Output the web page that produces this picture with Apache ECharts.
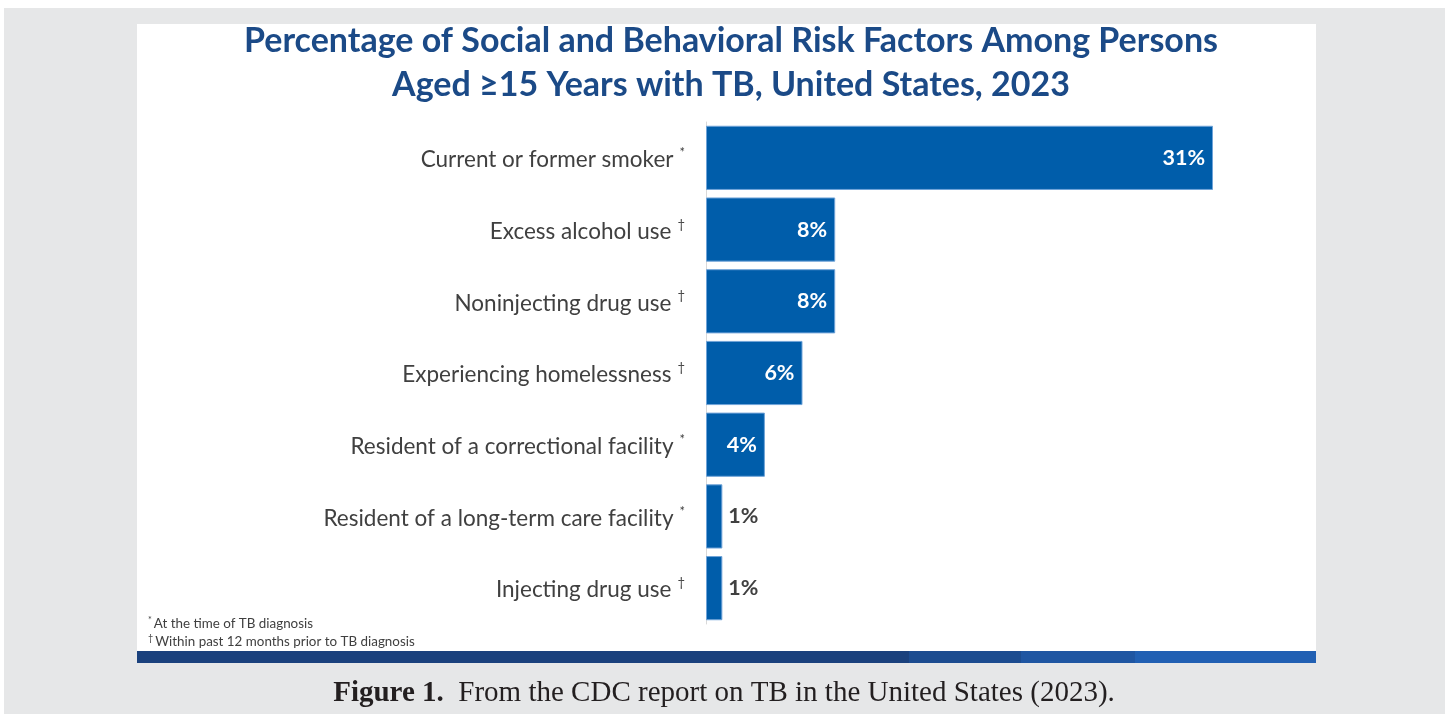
<!DOCTYPE html>
<html><head><meta charset="utf-8">
<script src="https://cdn.jsdelivr.net/npm/echarts@6/dist/echarts.min.js"></script>
<style>html,body{margin:0;padding:0;background:#fff}#c{width:1448px;height:714px}</style>
</head><body><div id="c"></div>
<script>
const categories = ["Current or former smoker","Excess alcohol use","Noninjecting drug use","Experiencing homelessness","Resident of a correctional facility","Resident of a long-term care facility","Injecting drug use"];
const marks = ["*","†","†","†","*","*","†"];
const values = [31, 7.9, 7.9, 5.9, 3.6, 1.0, 1.0];
const titleLines = ["Percentage of Social and Behavioral Risk Factors Among Persons","Aged ≥15 Years with TB, United States, 2023"];
const footnotes = [["*","At the time of TB diagnosis"],["†","Within past 12 months prior to TB diagnosis"]];
const captionBold = "Figure 1.";
const captionText = "From the CDC report on TB in the United States (2023).";

const chart = echarts.init(document.getElementById('c'), null, {renderer:'canvas'});
const labelFont = 'Lato, "Open Sans", sans-serif';
const data = values.map((v,i)=>{
  const inside = v >= 3;
  return {value:v, label:{
    position: inside ? 'insideRight' : 'right',
    distance: inside ? 8 : 6,
    color: inside ? '#ffffff' : '#404040'
  }};
});
chart.setOption({
  backgroundColor:'#ffffff',
  animation:false,
  title:{
    text: titleLines.join('\n'),
    left: 726, top: 14, textAlign:'center',
    textStyle:{color:'#1b4a87', fontFamily:labelFont, fontWeight:'bold', fontSize:34, lineHeight:44}
  },
  graphic:[
    {type:'rect', z:-10, shape:{x:4,y:8,width:1441,height:706}, style:{fill:'#e6e7e8'}},
    {type:'rect', z:-9, shape:{x:137,y:24,width:1179,height:628}, style:{fill:'#ffffff'}},
    {type:'rect', z:-8, shape:{x:137,y:651,width:772,height:12}, style:{fill:'#1a417d'}},
    {type:'rect', z:-8, shape:{x:909,y:651,width:112,height:12}, style:{fill:'#1c4c90'}},
    {type:'rect', z:-8, shape:{x:1021,y:651,width:114,height:12}, style:{fill:'#1f56a2'}},
    {type:'rect', z:-8, shape:{x:1135,y:651,width:181,height:12}, style:{fill:'#2160b3'}},
    {type:'text', left:148, top:616, style:{text:'{s|'+footnotes[0][0]+'}{t|'+footnotes[0][1]+'}', rich:{s:{fontSize:9,fill:'#404040',fontFamily:labelFont,padding:[0,2,6,0]},t:{fontSize:13.4,fill:'#404040',fontFamily:labelFont}}}},
    {type:'text', left:148, top:634, style:{text:'{s|'+footnotes[1][0]+'}{t|'+footnotes[1][1]+'}', rich:{s:{fontSize:9,fill:'#404040',fontFamily:labelFont,padding:[0,2,6,0]},t:{fontSize:13.4,fill:'#404040',fontFamily:labelFont}}}},
    {type:'text', left:'center', top:679, style:{text:'{b|'+captionBold+'}{n|  '+captionText+'}', rich:{b:{fontFamily:'"Liberation Serif", serif',fontWeight:'bold',fontSize:29,fill:'#231f20'},n:{fontFamily:'"Liberation Serif", serif',fontSize:29,fill:'#231f20'}}}}
  ],
  grid:{left:706, right:235, top:122, bottom:90, containLabel:false},
  xAxis:{type:'value', min:0, max:31, show:false},
  yAxis:{type:'category', data:categories, inverse:true,
    axisLine:{show:true, lineStyle:{color:'#d9d9d9', width:1}},
    axisTick:{show:false},
    axisLabel:{margin:21, formatter:(v,i)=>'{a|'+v+'}{s|'+marks[i]+'}',
      rich:{a:{fontFamily:labelFont, fontSize:22.5, color:'#404040', padding:[4,0,0,0]}, s:{fontFamily:labelFont, fontSize:13, color:'#404040', padding:[0,0,10,6]}}}
  },
  series:[{type:'bar', data:data, barCategoryGap:'10.5%',
    itemStyle:{color:'#005daa', borderColor:'#6fa3d8', borderWidth:1},
    label:{show:true, fontFamily:labelFont, fontWeight:'bold', fontSize:21.5,
      formatter:p=>Math.round(p.value)+'%'}
  }]
});
</script></body></html>
